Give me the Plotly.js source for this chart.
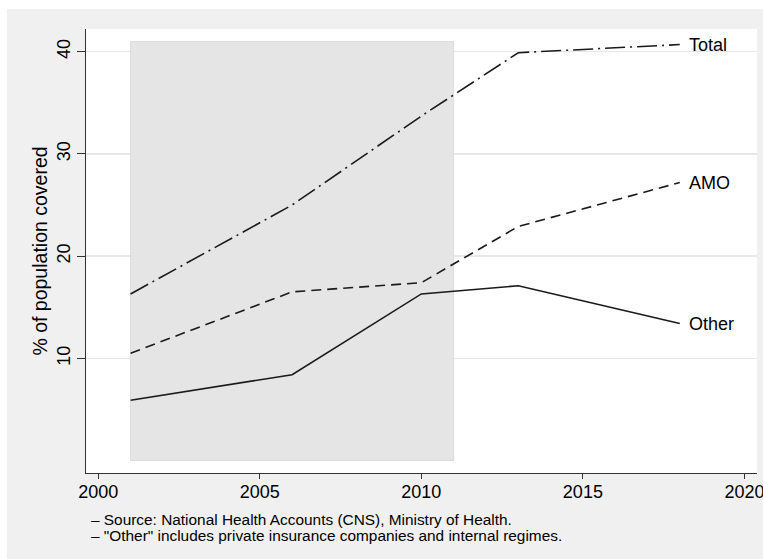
<!DOCTYPE html>
<html>
<head>
<meta charset="utf-8">
<script src="https://cdn.plot.ly/plotly-3.0.1.min.js"></script>
<style>
  html, body { margin: 0; padding: 0; background: #ffffff; width: 763px; height: 559px; overflow: hidden; }
  #chart { position: absolute; left: 7px; top: 9px; width: 756px; height: 550px; }
</style>
</head>
<body>
<div id="chart"></div>
<script>
// Data
const years = [2001, 2006, 2010, 2013, 2018];
const otherVals = [5.9, 8.4, 16.3, 17.1, 13.4];
const amoVals = [10.5, 16.5, 17.4, 22.9, 27.2];
const totalVals = [16.3, 25.0, 33.7, 39.9, 40.7];
const seriesNames = ["Total", "AMO", "Other"];
const xTicks = [2000, 2005, 2010, 2015, 2020];
const yTicks = [10, 20, 30, 40];
const shadeX = [2001, 2011];
const shadeY = [0, 41];
const footnotes = [
  "\u2013 Source: National Health Accounts (CNS), Ministry of Health.",
  "\u2013 \"Other\" includes private insurance companies and internal regimes."
];

const FONT = "Liberation Sans, Arial, Helvetica, sans-serif";
const lineColor = "#1a1a1a";

const traces = [
  { x: years, y: totalVals, name: seriesNames[0], mode: "lines",
    line: { color: lineColor, width: 1.6, dash: "20px,5px,2px,5px" } },
  { x: years, y: amoVals, name: seriesNames[1], mode: "lines",
    line: { color: lineColor, width: 1.6, dash: "10px,6px" } },
  { x: years, y: otherVals, name: seriesNames[2], mode: "lines",
    line: { color: lineColor, width: 1.6 } }
];

const lastIdx = years.length - 1;
const endVals = [totalVals[lastIdx], amoVals[lastIdx], otherVals[lastIdx]];
const annotations = seriesNames.map((n, i) => ({
  x: years[lastIdx], y: endVals[i], xref: "x", yref: "y",
  text: n, showarrow: false, xanchor: "left", yanchor: "middle", xshift: 7,
  font: { family: FONT, size: 18, color: "#000" }
}));
footnotes.forEach((t, i) => {
  annotations.push({
    x: 0, y: 0, xref: "paper", yref: "paper", text: t, showarrow: false,
    xanchor: "left", yanchor: "middle", xshift: 3, yshift: -46 - i * 16,
    font: { family: FONT, size: 15.4, color: "#000" }
  });
});

const layout = {
  width: 756, height: 550,
  margin: { l: 79, r: 6, t: 20, b: 86, pad: 0 },
  paper_bgcolor: "#f0f0f0",
  plot_bgcolor: "#ffffff",
  showlegend: false,
  font: { family: FONT, size: 18, color: "#000" },
  xaxis: {
    range: [1999.62, 2020.39], tickvals: xTicks, ticktext: xTicks.map(String),
    showgrid: false, zeroline: false, showline: true, linecolor: "#333", linewidth: 1.2,
    ticks: "outside", ticklen: 5, tickcolor: "#333", tickwidth: 1,
    ticklabeloverflow: "allow", ticklabelstandoff: -3,
    tickfont: { family: FONT, size: 18, color: "#000", weight: 400 }
  },
  yaxis: {
    range: [-1.22, 42.22], tickvals: yTicks, ticktext: yTicks.map(String),
    showgrid: true, gridcolor: "#e8e8e8", gridwidth: 1.5, zeroline: false,
    showline: true, linecolor: "#333", linewidth: 1.2,
    ticks: "outside", ticklen: 8, tickcolor: "#333", tickwidth: 1,
    tickangle: -90,
    tickfont: { family: FONT, size: 18, color: "#000" },
    title: { text: "% of population covered", standoff: 0,
             font: { family: FONT, size: 19.5, color: "#000" } }
  },
  shapes: [{
    type: "rect", xref: "x", yref: "y", x0: shadeX[0], x1: shadeX[1], y0: shadeY[0], y1: shadeY[1],
    fillcolor: "#e5e5e5", line: { color: "#dcdcdc", width: 1 }, layer: "between"
  }],
  annotations: annotations
};

Plotly.newPlot("chart", traces, layout, { staticPlot: true, displayModeBar: false });
</script>
</body>
</html>
